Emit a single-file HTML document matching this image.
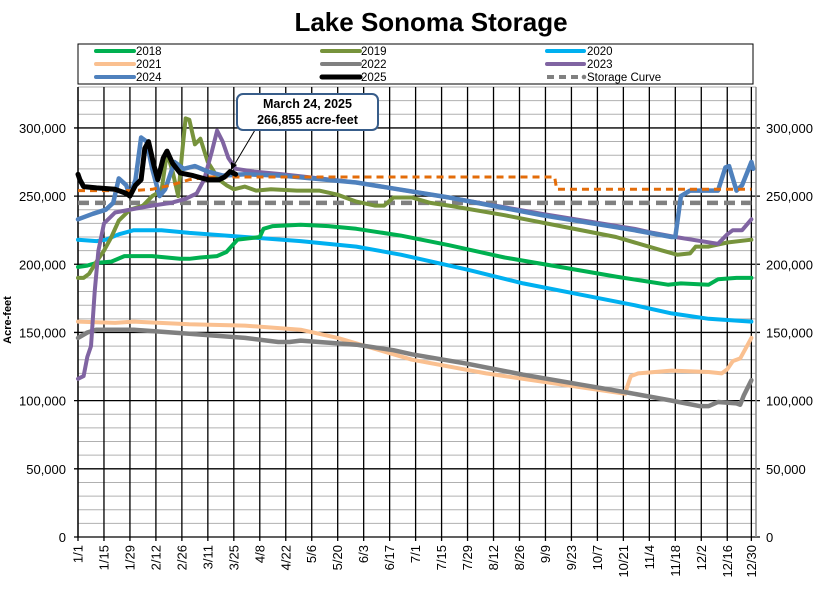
<!DOCTYPE html>
<html><head><meta charset="utf-8"><style>
body{margin:0;background:#fff;}
svg{display:block;font-family:"Liberation Sans",Arial,sans-serif;}
</style></head><body>
<svg id="s" width="821" height="598" viewBox="0 0 821 598" xmlns="http://www.w3.org/2000/svg">
<rect width="821" height="598" fill="#fff"/>
<text x="431" y="31" text-anchor="middle" font-size="26" font-weight="bold">Lake Sonoma Storage</text>
<g id="grid"></g>
<g id="series" fill="none" stroke-linejoin="round" stroke-linecap="round"></g>
<rect x="78" y="44" width="675" height="40" fill="#fff" stroke="#000" stroke-width="1"/>
<g font-size="11.5">
<line x1="96" y1="51" x2="134" y2="51" stroke="#00B050" stroke-width="4" stroke-linecap="round"/><text x="136" y="55">2018</text>
<line x1="96" y1="64" x2="134" y2="64" stroke="#FAC090" stroke-width="4" stroke-linecap="round"/><text x="136" y="68">2021</text>
<line x1="96" y1="77" x2="134" y2="77" stroke="#4F81BD" stroke-width="4" stroke-linecap="round"/><text x="136" y="81">2024</text>
<line x1="322" y1="51" x2="360" y2="51" stroke="#77933C" stroke-width="4" stroke-linecap="round"/><text x="361" y="55">2019</text>
<line x1="322" y1="64" x2="360" y2="64" stroke="#808080" stroke-width="4" stroke-linecap="round"/><text x="361" y="68">2022</text>
<line x1="322" y1="77" x2="360" y2="77" stroke="#000" stroke-width="5" stroke-linecap="round"/><text x="361" y="81">2025</text>
<line x1="547" y1="51" x2="584" y2="51" stroke="#00B0F0" stroke-width="4" stroke-linecap="round"/><text x="587" y="55">2020</text>
<line x1="547" y1="64" x2="584" y2="64" stroke="#8064A2" stroke-width="4" stroke-linecap="round"/><text x="587" y="68">2023</text>
<line x1="547" y1="77" x2="584" y2="77" stroke="#808080" stroke-width="4" stroke-dasharray="7,5"/><circle cx="584" cy="77" r="2.3" fill="#808080"/><text x="587" y="81">Storage Curve</text>
</g>
<text transform="translate(11,320) rotate(-90)" text-anchor="middle" font-size="11" font-weight="bold">Acre-feet</text>
<line x1="255" y1="130" x2="233" y2="167" stroke="#000" stroke-width="1"/>
<polygon points="231,170 231,162 237,165" fill="#000"/>
<rect x="237" y="94" width="141" height="36" rx="6" fill="#fff" stroke="#385D8A" stroke-width="2"/>
<text x="307.5" y="108" text-anchor="middle" font-size="12.5" font-weight="bold">March 24, 2025</text>
<text x="307.5" y="124" text-anchor="middle" font-size="12.5" font-weight="bold">266,855 acre-feet</text>
</svg>
<script>
const NS="http://www.w3.org/2000/svg";
const X=d=>78+d*1.855, Y=v=>537-v*1.3636;
const g=document.getElementById('grid'), s=document.getElementById('series');
function el(p,t,a){const e=document.createElementNS(NS,t);for(const k in a)e.setAttribute(k,a[k]);p.appendChild(e);return e;}
for(let v=10;v<=330;v+=10){ if(v%50) el(g,'line',{x1:78,x2:756,y1:Y(v),y2:Y(v),stroke:'#b0b0b0','stroke-width':1});}
const labs=["1/1","1/15","1/29","2/12","2/26","3/11","3/25","4/8","4/22","5/6","5/20","6/3","6/17","7/1","7/15","7/29","8/12","8/26","9/9","9/23","10/7","10/21","11/4","11/18","12/2","12/16","12/30"];
labs.forEach((l,i)=>{const d=i<26?i*14:363;const x=X(d);
el(g,'line',{x1:x,x2:x,y1:87,y2:541,stroke:'#000','stroke-width':1.3});
const t=el(g,'text',{transform:`translate(${x+4.5},${545}) rotate(-90)`,'text-anchor':'end','font-size':13});t.textContent=l;});
for(let v=0;v<=300;v+=50){const y=Y(v);
el(g,'line',{x1:74,x2:760,y1:y,y2:y,stroke:'#000','stroke-width':1.3});
const lab=v?(v+",000"):"0";
let t=el(g,'text',{x:66,y:y+5,'text-anchor':'end','font-size':13});t.textContent=lab;
t=el(g,'text',{x:766,y:y+5,'font-size':13});t.textContent=lab;}
el(g,'line',{x1:78,x2:78,y1:87,y2:537,stroke:'#000','stroke-width':1.3});
el(g,'line',{x1:756,x2:756,y1:87,y2:537,stroke:'#888','stroke-width':1.5});
function P(pts,c,w,dash){const d=pts.map((p,i)=>(i?'L':'M')+X(p[0]).toFixed(1)+','+Y(p[1]).toFixed(1)).join(' ');const a={d:d,stroke:c,'stroke-width':w};if(dash){a['stroke-dasharray']=dash;a['stroke-linecap']='butt';}el(s,'path',a);}
P([[0,245],[363,245]],'#808080',4.5,'11,6');
P([[0,158],[20,157],[30,158],[60,156],[90,155],[120,152],[140,146],[160,138],[180,130],[220,120],[260,112],[295,105],[296,110],[298,118],[302,120],[320,122],[340,121],[347,120],[350,123],[353,129],[357,131],[363,146]],'#FAC090',4);
P([[0,146],[5,150],[10,152],[30,152],[60,149],[90,146],[108,143],[114,143],[120,144],[150,141],[170,137],[180,134],[210,127],[240,119],[270,112],[296,106],[320,100],[335,96],[340,96],[345,99],[355,98],[357,97],[359,104],[363,115]],'#808080',4.5);
P([[0,218],[10,217],[15,218],[22,222],[30,225],[45,225],[60,223],[90,220],[120,217],[150,213],[174,207],[210,196],[240,186],[270,178],[300,170],[320,164],[340,160],[363,158]],'#00B0F0',4);
P([[0,198],[5,199],[10,201],[18,202],[25,206],[40,206],[55,204],[60,204],[66,205],[75,206],[80,209],[86,218],[98,220],[100,226],[105,228],[120,229],[135,228],[150,226],[174,221],[200,214],[230,205],[260,198],[290,191],[318,185],[325,186],[340,185],[345,189],[355,190],[363,190]],'#00B050',4);
P([[0,190],[3,190],[6,193],[10,202],[14,210],[18,220],[22,232],[28,240],[35,243],[40,250],[45,254],[48,282],[51,268],[54,250],[56,280],[58,307],[60,306],[63,288],[66,292],[70,275],[76,262],[80,258],[84,255],[90,257],[96,254],[104,255],[118,254],[130,254],[140,251],[150,246],[160,243],[165,243],[170,249],[180,249],[190,245],[200,243],[230,236],[260,228],[290,220],[315,210],[323,207],[330,208],[333,213],[340,213],[350,216],[363,218]],'#77933C',4);
P([[0,116],[3,118],[5,132],[7,140],[9,180],[11,210],[14,230],[20,238],[28,240],[40,243],[50,245],[58,248],[64,252],[68,262],[72,282],[75,298],[78,290],[81,278],[85,270],[95,268],[110,266],[150,260],[200,249],[250,237],[300,226],[310,223],[322,220],[345,215],[350,222],[353,225],[358,225],[363,233]],'#8064A2',4);
P([[0,233],[8,237],[15,240],[19,245],[22,263],[26,258],[28,250],[31,262],[34,293],[37,290],[40,270],[44,250],[47,255],[52,275],[57,270],[63,272],[70,268],[78,265],[90,266],[110,265],[150,260],[200,249],[250,236],[300,225],[320,220],[322,220],[325,250],[330,254],[345,254],[349,271],[351,272],[355,254],[358,258],[363,275],[364,270]],'#4F81BD',4.5);
P([[0,254],[30,254],[40,255],[50,258],[60,262],[70,264],[257,264],[258,255],[363,255]],'#E36C09',3,'7,5');
P([[0,266],[1,262],[3,257],[10,256],[20,255],[26,252],[28,250],[31,258],[34,262],[36,285],[38,290],[41,272],[43,262],[46,278],[48,283],[51,274],[55,267],[62,265],[70,262],[76,262],[79,264],[82,268],[85,266]],'#000',5);
</script>
</body></html>
